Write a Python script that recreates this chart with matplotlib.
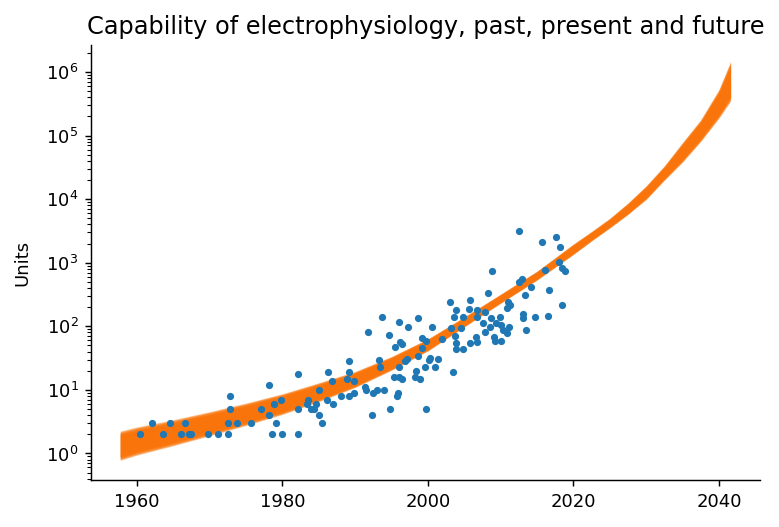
import matplotlib
matplotlib.use("Agg")
import matplotlib.pyplot as plt
import numpy as np

# recordings: year and number of units
years = [
    1960.4, 1962.0, 1963.6, 1964.6, 1966.1, 1966.6, 1967.1, 1967.4, 1969.8, 1971.1,
    1972.5, 1972.5, 1972.8, 1972.8, 1973.7, 1975.7, 1977.0, 1978.1, 1978.1, 1978.8,
    1979.1, 1978.5, 1979.8, 1980.0, 1982.1, 1982.1, 1982.2, 1983.5, 1983.4, 1983.9,
    1984.3, 1984.6, 1985.0, 1985.5, 1985.0, 1986.3, 1986.8, 1986.1, 1986.9, 1988.0,
    1989.2, 1989.1, 1988.9, 1989.9, 1989.2, 1989.8, 1991.7, 1991.4, 1991.5, 1992.3,
    1992.5, 1993.0, 1993.3, 1993.4, 1993.7, 1994.7, 1996.0, 1997.2, 1998.6, 1996.2,
    1996.4, 1995.5, 1999.2, 1999.7, 1999.2, 2000.6, 2001.9, 2003.0, 2003.6, 2003.9,
    2003.1, 2003.7, 2003.9, 2003.9, 1997.1, 1996.9, 1998.6, 1996.0, 2000.2, 2000.3,
    2001.4, 1999.6, 2001.0, 1998.4, 1995.3, 1996.0, 1996.5, 1998.2, 1998.9, 2003.5,
    1994.0, 1995.9, 1995.8, 1994.8, 1999.7, 2008.8, 2012.5, 2008.3, 2005.8, 2005.6,
    2006.7, 2004.8, 2006.7, 2007.9, 2011.0, 2011.3, 2010.8, 2007.5, 2008.7, 2009.9,
    2009.4, 2008.5, 2010.1, 2010.3, 2011.1, 2004.6, 2007.8, 2010.8, 2009.1, 2009.2,
    2010.0, 2006.6, 2005.8, 2006.7, 2004.8, 2015.7, 2017.6, 2018.1, 2018.0, 2016.1,
    2018.4, 2018.9, 2012.9, 2012.5, 2014.2, 2013.3, 2016.6, 2018.4, 2013.0, 2013.0,
    2014.7, 2016.5, 2013.5,
]
units = [
    2, 3, 2, 3, 2, 3, 2, 2, 2, 2,
    2, 3, 5, 8, 3, 3, 5, 12, 4, 6,
    3, 2, 7, 2, 2, 18, 5, 7, 6, 5,
    5, 6, 4, 3, 10, 19, 14, 7, 6, 8,
    28, 19, 15, 14, 8, 9, 80, 11, 10, 4,
    9, 10, 29, 23, 142, 73, 116, 96, 134, 57,
    53, 47, 66, 59, 45, 96, 62, 239, 138, 181,
    93, 70, 55, 44, 31, 28, 34, 23, 30, 32,
    31, 23, 23, 20, 16, 16, 15, 16, 15, 19,
    10, 9, 8, 5, 5, 745, 3100, 330, 260, 185,
    180, 138, 138, 170, 244, 216, 192, 111, 134, 138,
    111, 98, 105, 87, 98, 93, 82, 78, 69, 59,
    59, 67, 55, 57, 44, 2140, 2570, 1750, 1040, 770,
    820, 750, 550, 500, 410, 310, 372, 216, 156, 134,
    138, 145, 87,
]

# fitted trend band (lower / upper edge, units)
band_years = [1957.7, 1960, 1965, 1970, 1975, 1980, 1985, 1990, 1995, 2000,
              2005, 2010, 2015, 2020, 2022.5, 2025, 2027.5, 2030, 2032.5, 2035,
              2037.5, 2040, 2041.6]
band_low = [0.83, 1.0, 1.4, 2.0, 2.9, 4.3, 6.8, 11.3, 21.0, 42.0,
            100, 235, 545, 1380, 2250, 3600, 5900, 10200, 20500, 40000,
            85000, 200000, 380000]
band_high = [2.1, 2.45, 3.2, 4.3, 5.9, 8.3, 12.4, 18.8, 32.5, 62.0,
             138, 315, 725, 1930, 3050, 4900, 8500, 15800, 32500, 75000,
             170000, 500000, 1350000]

fig, ax = plt.subplots(figsize=(5.993, 4.055), dpi=130)
fig.subplots_adjust(left=0.117, right=0.976, bottom=0.089, top=0.915)

lo = np.log10(band_low)
hi = np.log10(band_high)
mid = (lo + hi) / 2
half = (hi - lo) / 2
# many faint copies give the soft edge of the posterior band
for k in np.linspace(1.15, 0.8, 10):
    ax.fill_between(band_years, 10 ** (mid - k * half), 10 ** (mid + k * half),
                    color="#f97306", alpha=0.3, linewidth=0)

ax.scatter(years, units, s=16, color="C0", linewidths=0, zorder=3)

ax.set_yscale("log")
ax.set_xlim(1953.7, 2045.7)
ax.set_ylim(0.38, 2.7e6)
ax.set_yticks(10.0 ** np.arange(0, 7))
ax.set_xticks([1960, 1980, 2000, 2020, 2040])
ax.set_ylabel("Units", labelpad=8)
ax.set_title("Capability of electrophysiology, past, present and future",
             fontsize=13.3)
ax.spines["top"].set_visible(False)
ax.spines["right"].set_visible(False)

fig.savefig("out.png", dpi=130)
